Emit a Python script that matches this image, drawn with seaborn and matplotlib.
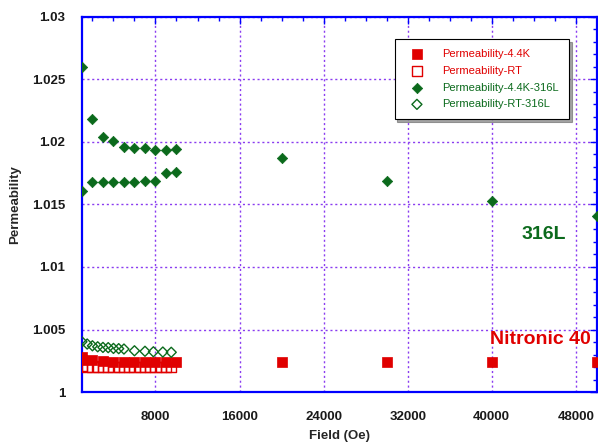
import numpy as np
import pandas as pd
import matplotlib
matplotlib.use("Agg")
import matplotlib.pyplot as plt
from matplotlib.ticker import MultipleLocator, FuncFormatter
import seaborn as sns

# Nitronic 40, 4.4 K (filled squares)
field_4k = [1000, 1000, 2000, 3000, 4000, 5000, 6000, 7000, 8000, 9000, 10000,
            20000, 30000, 40000, 50000]
perm_4k = [1.00282, 1.00255, 1.00258, 1.00248, 1.00244, 1.00242, 1.00241, 1.00240,
           1.00240, 1.00240, 1.00240, 1.00240, 1.00240, 1.00240, 1.00240]

# Nitronic 40, room temperature (open squares)
field_rt = [1000, 1500, 2000, 2500, 3000, 3500, 4000, 4500, 5000, 5500, 6000,
            6500, 7000, 7500, 8000, 8500, 9000, 9500]
perm_rt = [1.00206, 1.00205, 1.00204, 1.00203, 1.00203, 1.00202, 1.00202, 1.00201,
           1.00201, 1.00200, 1.00200, 1.00200, 1.00199, 1.00199, 1.00199, 1.00198,
           1.00198, 1.00198]

# 316L, 4.4 K (filled diamonds) - up and down sweeps
field_316_4k = [1000, 2000, 3000, 4000, 5000, 6000, 7000, 8000, 9000, 10000,
                1000, 2000, 3000, 4000, 5000, 6000, 7000, 8000, 9000, 10000,
                20000, 30000, 40000, 50000]
perm_316_4k = [1.0260, 1.02187, 1.02042, 1.02005, 1.01962, 1.01952, 1.01952, 1.01936, 1.01933, 1.01941,
               1.01608, 1.01683, 1.01683, 1.01683, 1.01683, 1.01683, 1.01691, 1.01690, 1.01749, 1.01762,
               1.01872, 1.01688, 1.01528, 1.01408]

# 316L, room temperature (open diamonds)
field_316_rt = [1000, 1500, 2000, 2500, 3000, 3500, 4000, 4500, 5000, 6000, 7000,
                7800, 8700, 9500]
perm_316_rt = [1.00402, 1.00384, 1.00370, 1.00362, 1.00357, 1.00355, 1.00349, 1.00347,
               1.00344, 1.00330, 1.00326, 1.00322, 1.00320, 1.00318]

red = "#e00000"
green = "#0b6a1c"
blue = "#0000ff"
grid_purple = "#8a3cf0"

sns.set_style("white")
plt.rcParams["font.family"] = ["Liberation Sans", "DejaVu Sans"]

fig = plt.figure(figsize=(5.98, 4.43), dpi=100)
ax = fig.add_axes([0.137, 0.115, 0.861, 0.847])

sns.scatterplot(x=field_4k, y=perm_4k, marker="s", s=55, color=red,
                edgecolor=red, linewidth=0.5, ax=ax, label="Permeability-4.4K", zorder=3)
sns.scatterplot(x=field_rt, y=perm_rt, marker="s", s=55, facecolor="none",
                edgecolor=red, linewidth=1.0, ax=ax, label="Permeability-RT", zorder=3)
sns.scatterplot(x=field_316_4k, y=perm_316_4k, marker="D", s=28, color=green,
                edgecolor=green, linewidth=0.5, ax=ax, label="Permeability-4.4K-316L", zorder=3)
sns.scatterplot(x=field_316_rt, y=perm_316_rt, marker="D", s=26, facecolor="none",
                edgecolor=green, linewidth=1.0, ax=ax, label="Permeability-RT-316L", zorder=3)

ax.set_xlim(1000, 50000)
ax.set_ylim(1.0, 1.03)
ax.xaxis.set_major_locator(MultipleLocator(8000))
ax.xaxis.set_minor_locator(MultipleLocator(2000))
ax.yaxis.set_major_locator(MultipleLocator(0.005))
ax.yaxis.set_minor_locator(MultipleLocator(0.001))
ax.yaxis.set_major_formatter(FuncFormatter(lambda v, p: f"{v:g}"))
ax.xaxis.set_major_formatter(FuncFormatter(lambda v, p: f"{v:.0f}"))

ax.grid(True, which="major", color=grid_purple, linestyle=(0, (1.5, 2)), linewidth=1.0)
for s in ax.spines.values():
    s.set_color(blue)
    s.set_linewidth(1.6)
ax.tick_params(which="both", direction="in", color=blue, top=True, right=True,
               labelsize=9.5)
ax.tick_params(axis="x", pad=14)
ax.tick_params(axis="y", pad=12)
ax.tick_params(which="major", length=5, width=1)
ax.tick_params(which="minor", length=3, width=1)
for lbl in ax.get_xticklabels() + ax.get_yticklabels():
    lbl.set_fontweight("bold")
    lbl.set_color("#1a1a1a")

ax.set_xlabel("Field (Oe)", fontsize=9.5, fontweight="bold", labelpad=5)
ax.set_ylabel("Permeability", fontsize=9.5, fontweight="bold", labelpad=8)

ax.text(45000, 1.01256, "316L", color=green, fontsize=14, fontweight="bold",
        ha="center", va="center")
ax.text(44600, 1.0042, "Nitronic 40", color=red, fontsize=14, fontweight="bold",
        ha="center", va="center")

leg = ax.legend(loc="upper right", bbox_to_anchor=(0.957, 0.955), fontsize=8,
                frameon=True, fancybox=False, shadow=True, edgecolor="black",
                framealpha=1, borderpad=0.9, labelspacing=0.6, handletextpad=1.2,
                handlelength=2.2)
leg.get_frame().set_linewidth(0.8)
for txt, c in zip(leg.get_texts(), [red, red, green, green]):
    txt.set_color(c)

fig.savefig("out.png", dpi=100)
